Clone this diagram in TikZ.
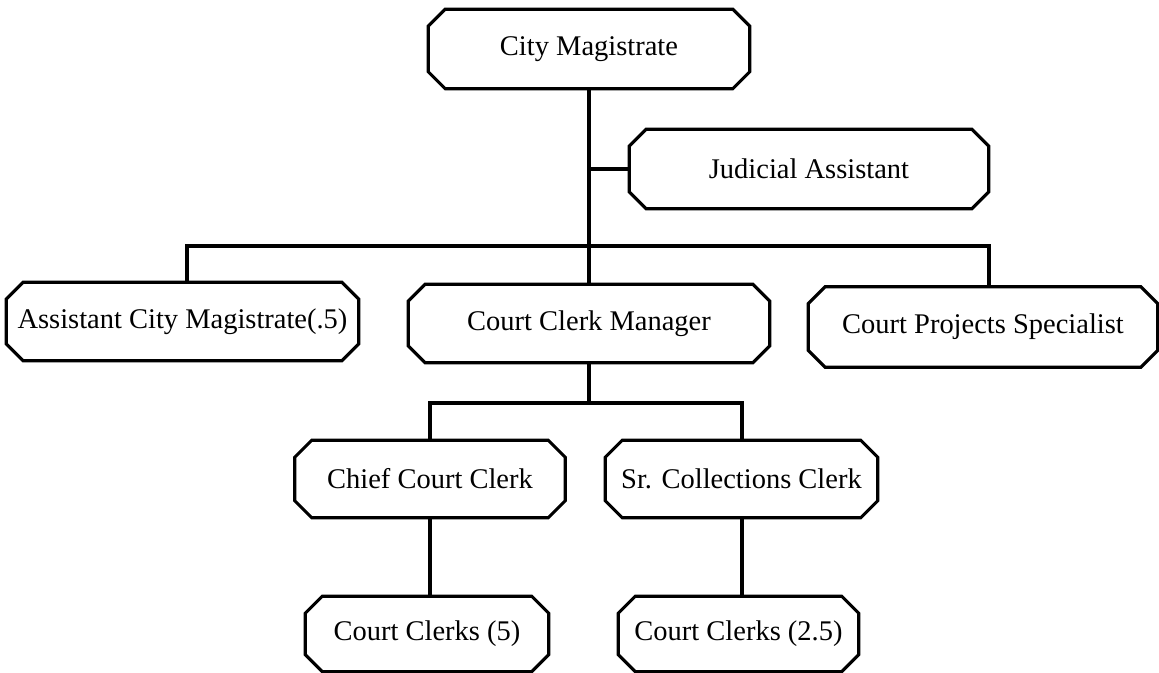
\documentclass[tikz,border=0pt]{standalone}
\usepackage{fontspec}
\setmainfont{Liberation Serif}
\begin{document}
\begin{tikzpicture}[x=0.01cm,y=-0.01cm,
  post/.style={rectangle, draw=none, inner sep=0pt, align=center,
    font=\fontsize{8.1}{10}\selectfont},
  link/.style={draw=black, line width=0.9pt},
  frame/.style={draw=black, line width=0.9pt, line join=miter}]
\useasboundingbox (0,0) rectangle (1159,673);

% positions
\node[post, minimum width=3.2cm,  minimum height=0.78cm] (cm)    at (589,49)    {City Magistrate};
\node[post, minimum width=3.58cm, minimum height=0.78cm] (ja)    at (809,169)   {Judicial Assistant};
\node[post, minimum width=3.51cm, minimum height=0.77cm] (acm)   at (182.5,321.5) {Assistant City Magistrate(.5)};
\node[post, minimum width=3.6cm,  minimum height=0.77cm] (ccm)   at (589,323.5) {Court Clerk Manager};
\node[post, minimum width=3.48cm, minimum height=0.79cm] (cps)   at (983,327)   {Court Projects Specialist};
\node[post, minimum width=2.69cm, minimum height=0.76cm] (chief) at (430,479)   {Chief Court Clerk};
\node[post, minimum width=2.71cm, minimum height=0.76cm] (sr)    at (741.5,479) {Sr. Collections Clerk};
\node[post, minimum width=2.42cm, minimum height=0.74cm] (cc5)   at (427,634)   {Court Clerks (5)};
\node[post, minimum width=2.39cm, minimum height=0.74cm] (cc25)  at (738.5,634) {Court Clerks (2.5)};

% octagonal frames with cut corners
\foreach \n in {cm,ja,acm,ccm,cps,chief,sr,cc5,cc25}{
  \draw[frame]
    ([xshift=0.17cm]\n.north west) -- ([xshift=-0.17cm]\n.north east)
    -- ([yshift=-0.17cm]\n.north east) -- ([yshift=0.17cm]\n.south east)
    -- ([xshift=-0.17cm]\n.south east) -- ([xshift=0.17cm]\n.south west)
    -- ([yshift=0.17cm]\n.south west) -- ([yshift=-0.17cm]\n.north west)
    -- cycle;
}

% bus ends
\coordinate (busL) at (187,246);
\coordinate (busR) at (989,246);
\coordinate (subL) at (430,403);
\coordinate (subR) at (742,403);

% main trunk
\draw[link] (cm.south) -- (ccm.north);
\draw[link] (ja.west) -- (ja.west -| cm.south);
\draw[link] (acm.north -| busL) -- (busL) -- (busR) -- (cps.north -| busR);

% clerk branch
\draw[link] (ccm.south) -- (ccm.south |- subL);
\draw[link] (chief.north -| subL) -- (subL) -- (subR) -- (sr.north -| subR);
\draw[link] (chief.south -| subL) -- (cc5.north -| subL);
\draw[link] (sr.south -| subR) -- (cc25.north -| subR);
\end{tikzpicture}
\end{document}
